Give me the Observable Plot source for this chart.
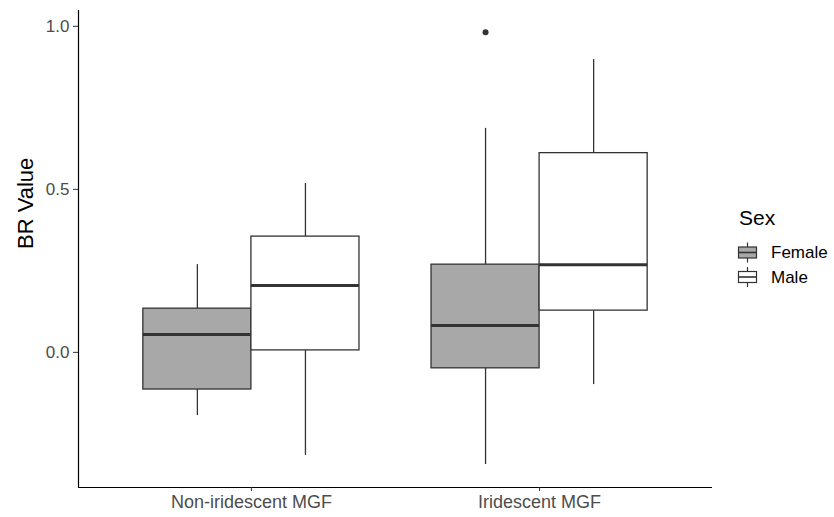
<!DOCTYPE html>
<html>
<head>
<meta charset="utf-8">
<script src="https://cdn.jsdelivr.net/npm/d3@7"></script>
<script src="https://cdn.jsdelivr.net/npm/@observablehq/plot@0.6"></script>
<style>
  html, body { margin: 0; padding: 0; background: #fff; }
  #wrap { position: relative; width: 834px; height: 517px; font-family: "Liberation Sans", Arial, sans-serif; }
  #legend { position: absolute; left: 736px; top: 200px; }
</style>
</head>
<body>
<div id="wrap"><div id="chart"></div><div id="legend"></div></div>
<script>
const categories = ["Non-iridescent MGF", "Iridescent MGF"];
const sexes = ["Female", "Male"];
const sexFills = ["#a8a8a8", "#ffffff"];
const yTicks = [0, 0.5, 1.0];

const femaleLow    = [-0.194, -0.344];
const femaleQ1     = [-0.114, -0.049];
const femaleMedian = [0.055, 0.082];
const femaleQ3     = [0.134, 0.269];
const femaleHigh   = [0.269, 0.687];
const femaleOutliers = [[], [0.982]];

const maleLow    = [-0.316, -0.099];
const maleQ1     = [0.006, 0.128];
const maleMedian = [0.205, 0.269];
const maleQ3     = [0.355, 0.611];
const maleHigh   = [0.518, 0.898];
const maleOutliers = [[], []];

const boxWidth = 0.375;
const series = [
  {sex: "Female", low: femaleLow, q1: femaleQ1, med: femaleMedian, q3: femaleQ3, high: femaleHigh, out: femaleOutliers},
  {sex: "Male", low: maleLow, q1: maleQ1, med: maleMedian, q3: maleQ3, high: maleHigh, out: maleOutliers}
];
const rows = [];
const outRows = [];
series.forEach((s, j) => {
  categories.forEach((c, i) => {
    const x1 = (i + 1) + (j - 1) * boxWidth;
    const x2 = x1 + boxWidth;
    const xc = (x1 + x2) / 2;
    rows.push({category: c, sex: s.sex, x1, x2, xc, low: s.low[i], q1: s.q1[i], med: s.med[i], q3: s.q3[i], high: s.high[i]});
    s.out[i].forEach(v => outRows.push({category: c, sex: s.sex, xc, value: v}));
  });
});

const yDomain = [-0.4145, 1.0485];
const font = '"Liberation Sans", Arial, sans-serif';
const ink = "#333333";

const chart = Plot.plot({
  width: 834,
  height: 517,
  marginLeft: 78,
  marginRight: 122,
  marginTop: 10,
  marginBottom: 30,
  style: {fontFamily: font, background: "#fff", overflow: "visible"},
  x: {domain: [0.4, 2.6], axis: null},
  y: {domain: yDomain, axis: null},
  color: {domain: sexes, range: sexFills},
  marks: [
    Plot.ruleX(rows, {x: "xc", y1: "q3", y2: "high", stroke: ink, strokeWidth: 1.3}),
    Plot.ruleX(rows, {x: "xc", y1: "low", y2: "q1", stroke: ink, strokeWidth: 1.3}),
    Plot.rect(rows, {x1: "x1", x2: "x2", y1: "q1", y2: "q3", fill: "sex", stroke: ink, strokeWidth: 1.3}),
    Plot.ruleY(rows, {y: "med", x1: "x1", x2: "x2", stroke: ink, strokeWidth: 3}),
    Plot.dot(outRows, {x: "xc", y: "value", r: 3, fill: ink, stroke: "none"}),
    Plot.ruleX([0.4], {stroke: "#000", strokeWidth: 1.2}),
    Plot.ruleY([yDomain[0]], {stroke: "#000", strokeWidth: 1.2}),
    Plot.axisY(yTicks, {
      tickFormat: d3.format(".1f"), tickSize: 5, tickPadding: 4,
      fontSize: 17, fill: "#4d4d4d", stroke: ink, label: null
    }),
    Plot.axisX([1, 2], {
      tickFormat: d => categories[d - 1], tickSize: 4, tickPadding: 4,
      fontSize: 18, fill: "#4d4d4d", stroke: ink, label: null
    }),
    Plot.text(["BR Value"], {frameAnchor: "left", rotate: -90, dx: -53, fontSize: 22, fill: "#000", text: d => d})
  ]
});
document.getElementById("chart").appendChild(chart);

// Legend
const lg = d3.select("#legend").append("svg")
  .attr("width", 98).attr("height", 100)
  .style("font-family", font);
lg.append("text").attr("x", 3).attr("y", 25).attr("font-size", 21).attr("fill", "#000").text("Sex");
sexes.forEach((s, i) => {
  const cy = 52.5 + i * 24.5;
  const g = lg.append("g");
  g.append("line").attr("x1", 11.5).attr("x2", 11.5).attr("y1", cy - 10).attr("y2", cy + 10)
    .attr("stroke", ink).attr("stroke-width", 1.2);
  g.append("rect").attr("x", 2.5).attr("y", cy - 5.5).attr("width", 18).attr("height", 11)
    .attr("fill", sexFills[i]).attr("stroke", ink).attr("stroke-width", 1.2);
  g.append("line").attr("x1", 2.5).attr("x2", 20.5).attr("y1", cy).attr("y2", cy)
    .attr("stroke", ink).attr("stroke-width", 1.6);
  g.append("text").attr("x", 35).attr("y", cy).attr("dy", "0.35em").attr("font-size", 17)
    .attr("fill", "#000").text(s);
});
</script>
</body>
</html>
